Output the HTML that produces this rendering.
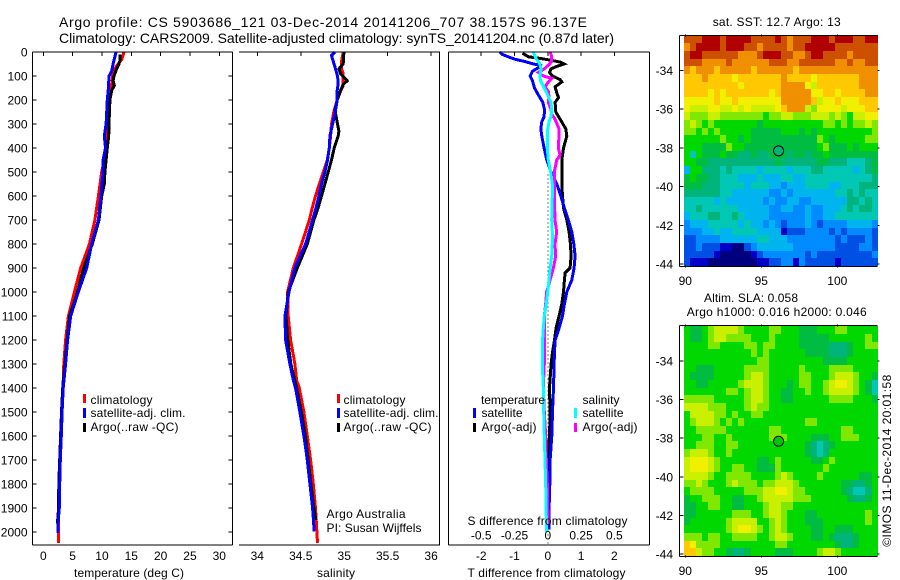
<!DOCTYPE html>
<html>
<head>
<meta charset="utf-8">
<title>Argo profile</title>
<style>
html,body{margin:0;padding:0;background:#fff;}
svg{display:block;}
text{font-family:"Liberation Sans",sans-serif;font-size:12px;fill:#000;}
</style>
</head>
<body>
<svg id="fig" width="900" height="580" viewBox="0 0 900 580" xmlns="http://www.w3.org/2000/svg">
<rect x="0" y="0" width="900" height="580" fill="#fff"/>
<text x="59" y="27" style="font-size:14px" textLength="528">Argo profile: CS 5903686_121 03-Dec-2014 20141206_707 38.157S 96.137E</text>
<text x="59" y="43" style="font-size:14px" textLength="555">Climatology: CARS2009. Satellite-adjusted climatology: synTS_20141204.nc (0.87d later)</text>
<g id="panels"></g>

<text x="74" y="577" textLength="110">temperature (deg C)</text>
<text x="317" y="577" textLength="38">salinity</text>
<text x="467.5" y="577" textLength="158">T difference from climatology</text>
<text x="467.5" y="525" textLength="160">S difference from climatology</text>

<g>
<rect x="83" y="394" width="3" height="9" fill="#f00"/>
<rect x="83" y="408" width="3" height="10" fill="#00f"/>
<rect x="83" y="423" width="3" height="9" fill="#000"/>
<text x="90.5" y="404" textLength="62">climatology</text>
<text x="90.5" y="417" textLength="95">satellite-adj. clim.</text>
<text x="90.5" y="431" textLength="88">Argo(..raw -QC)</text>
</g>
<g>
<rect x="337" y="394" width="3" height="9" fill="#f00"/>
<rect x="337" y="408" width="3" height="10" fill="#00f"/>
<rect x="337" y="423" width="3" height="9" fill="#000"/>
<text x="343.5" y="404" textLength="62">climatology</text>
<text x="343.5" y="417" textLength="95">satellite-adj. clim.</text>
<text x="343.5" y="431" textLength="88">Argo(..raw -QC)</text>
</g>
<text x="326.5" y="518" textLength="79">Argo Australia</text>
<text x="326.5" y="532" textLength="95">PI: Susan Wijffels</text>

<g>
<text x="481" y="404" textLength="64">temperature</text>
<rect x="473" y="408" width="3" height="10" fill="#00f"/>
<text x="481.5" y="417" textLength="41">satellite</text>
<rect x="473" y="423" width="3" height="9" fill="#000"/>
<text x="481.5" y="431" textLength="55">Argo(-adj)</text>
<text x="582.5" y="404" textLength="37">salinity</text>
<rect x="574" y="408" width="3" height="10" fill="#0ff"/>
<text x="582.5" y="417" textLength="41">satellite</text>
<rect x="574" y="423" width="3" height="9" fill="#f0f"/>
<text x="582.5" y="431" textLength="55">Argo(-adj)</text>
</g>

<text x="712.7" y="26" textLength="128">sat. SST: 12.7  Argo: 13</text>
<text x="704" y="302" textLength="94">Altim. SLA: 0.058</text>
<text x="686.7" y="316" textLength="180">Argo h1000: 0.016  h2000: 0.046</text>
<text transform="translate(891,546.7) rotate(-90)" x="0" y="0" textLength="172">©IMOS 11-Dec-2014 20:01:58</text>
</svg>

<script>
// ---------- Tick labels ----------
const depthTicks = [0,100,200,300,400,500,600,700,800,900,1000,1100,1200,1300,1400,1500,1600,1700,1800,1900,2000];
const tempTicks = [0,5,10,15,20,25,30];
const salTicks = [34,34.5,35,35.5,36];
const tDiffTicks = [-2,-1,0,1,2];
const sDiffTicks = [-0.5,-0.25,0,0.25,0.5];
const lonTicks = [90,95,100];
const latTicks = [-34,-36,-38,-40,-42,-44];

// ---------- Temperature panel ----------
const tempClimDepth = [0,30,50,80,120,150,200,300,400,500,600,700,800,900,1000,1100,1200,1300,1400,1500,1600,1700,1800,1900,2000,2045];
const tempClimValues = [13.75,13.4,12.75,11.9,11.75,11.5,11.2,10.9,10.8,9.95,9.4,8.8,7.85,6.37,5.3,4.27,3.8,3.5,3.35,3.15,3,2.85,2.75,2.65,2.55,2.55];
const tempArgoDepth = [10,30,50,70,100,120,140,160,200,300,350,400,500,550,600,700,800,900,1000,1100,1200,1300,1400,1500,1600,1700,1800,1900,1965];
const tempArgoValues = [13.1,13.1,12.9,12.5,12.05,11.9,12.1,11.65,11.35,11.2,11.15,10.9,10.5,10.4,9.95,9.5,8.35,6.9,5.85,4.5,4.05,3.7,3.3,3.1,2.95,2.8,2.65,2.6,2.4];
const tempSatDepth = [0,50,80,100,150,200,300,350,400,450,500,600,700,800,900,1000,1100,1200,1300,1400,1500,1600,1700,1800,1900,1950,2004];
const tempSatValues = [12.4,11.9,11.65,11.2,11.1,10.9,10.7,10.4,10.6,10.2,10.2,9.83,9.4,8.25,7.4,5.97,4.67,4.15,3.8,3.4,3.2,3.07,2.9,2.8,2.73,2.56,2.5];

// ---------- Salinity panel ----------
const salClimDepth = [0,40,70,90,140,170,200,250,300,350,400,450,500,550,600,650,700,800,900,1000,1100,1200,1300,1367,1400,1500,1600,1700,1800,1900,2000,2045];
const salClimValues = [34.989,34.969,34.969,34.989,34.989,34.95,34.92,34.88,34.854,34.843,34.828,34.805,34.759,34.713,34.67,34.632,34.598,34.51,34.414,34.349,34.356,34.383,34.433,34.452,34.483,34.536,34.575,34.613,34.644,34.67,34.686,34.693];
const salArgoDepth = [0,50,70,90,110,120,135,160,200,240,280,330,350,400,450,500,550,600,650,700,800,900,1000,1100,1200,1300,1400,1500,1600,1700,1800,1900,1950];
const salArgoValues = [34.996,34.989,34.939,34.958,35.008,35.034,34.989,34.958,34.92,34.893,34.912,34.939,34.931,34.885,34.854,34.816,34.778,34.739,34.7,34.651,34.575,34.46,34.357,34.33,34.35,34.385,34.452,34.506,34.552,34.586,34.617,34.651,34.674];
const salSatDepth = [0,15,40,70,100,130,160,200,250,300,350,400,450,500,550,600,650,700,800,900,1000,1100,1200,1300,1367,1400,1500,1600,1700,1800,1900,1997];
const salSatValues = [34.893,34.854,34.874,34.9,34.923,34.931,34.92,34.92,34.897,34.866,34.835,34.828,34.808,34.778,34.739,34.709,34.674,34.636,34.556,34.433,34.365,34.318,34.326,34.375,34.414,34.44,34.49,34.536,34.575,34.605,34.636,34.655];

// ---------- Difference panel ----------
const diffTSatDepth = [0,10,20,30,40,50,55,65,80,100,120,150,180,210,240,270,290,320,350,400,450,500,550,600,650,700,750,800,850,900,950,1000,1050,1100,1150,1200,1250,1300,1400,1500,1600,1700,1800,1900,1990];
const diffTSatValues = [-1.44,-1.37,-1.19,-0.99,-0.68,-0.43,-0.23,-0.28,-0.46,-0.53,-0.46,-0.4,-0.28,-0.15,-0.1,-0.11,-0.18,-0.21,-0.18,-0.11,-0.03,0.1,0.27,0.39,0.5,0.62,0.72,0.78,0.82,0.79,0.72,0.57,0.5,0.44,0.34,0.22,0.2,0.19,0.17,0.14,0.12,0.07,0.06,0.04,0.04];
const diffTArgoDepth = [5,10,20,28,35,42,50,60,70,85,100,115,125,145,170,190,210,250,280,320,350,400,450,500,550,600,650,700,750,800,850,900,920,950,1000,1050,1100,1150,1200,1250,1300,1400,1500,1600,1700,1800,1900,1960];
const diffTArgoValues = [-0.76,-0.7,-0.58,-0.18,0.12,0.37,0.49,0.27,0.1,0.05,0.14,0.37,0.42,0.22,0.27,0.32,0.22,0.24,0.37,0.54,0.57,0.47,0.42,0.42,0.42,0.44,0.47,0.57,0.64,0.68,0.7,0.67,0.52,0.5,0.47,0.42,0.34,0.25,0.2,0.14,0.1,0.05,0.07,0.05,0.01,0,0,0.02];
const diffSSatDepth = [0,10,25,50,70,100,120,150,180,210,240,270,290,330,400,450,500,550,600,700,750,800,850,900,950,1000,1050,1100,1150,1200,1300,1400,1500,1600,1700,1800,1900,2000];
const diffSSatValues = [-0.109,-0.101,-0.091,-0.059,-0.051,-0.059,-0.054,-0.026,-0.001,0.024,0.029,0.024,0.009,-0.004,-0.004,0.004,0.022,0.034,0.034,0.029,0.034,0.034,0.029,0.017,0.009,-0.001,-0.011,-0.026,-0.034,-0.039,-0.041,-0.034,-0.031,-0.026,-0.021,-0.016,-0.013,-0.009];
const diffSArgoDepth = [0,20,40,55,70,85,100,110,125,145,165,185,210,240,260,280,320,350,400,430,450,500,600,700,750,800,850,900,950,1000,1050,1100,1150,1200,1300,1400,1500,1600,1700,1800,1900,1970];
const diffSArgoValues = [0.017,0.029,0.029,0.004,-0.026,-0.071,-0.034,0.029,0.004,-0.021,0.004,0.009,0.004,0.024,0.029,0.054,0.084,0.084,0.079,0.092,0.067,0.049,0.049,0.054,0.067,0.054,0.059,0.042,0.017,-0.009,-0.016,-0.026,-0.026,-0.026,-0.026,-0.034,-0.026,-0.016,-0.011,-0.004,-0.001,0.004];

// ---------- Map grids (colour level per cell, north to south, west to east) ----------
const mapPalette = ["#00007f","#0000c8","#0050e6","#008cff","#00b4f0","#00c8b4","#00b47c","#00bc40","#00d800","#80e800","#c8f000","#f0f000","#ffc800","#f09000","#cc5000","#b00000"];
const sstGrid = [
[14,14,14,15,15,15,14,15,15,15,15,14,14,14,14,15,14,13,14,14,14,15,15,15,14,15,15,15,14,14,15,15],
[13,14,15,15,15,15,14,15,15,15,14,14,13,14,14,14,14,13,14,14,15,15,15,15,15,14,14,14,14,14,14,14],
[14,15,15,14,14,14,14,14,14,13,13,13,14,15,15,15,14,14,13,13,14,15,15,14,14,14,14,13,14,14,14,14],
[14,14,14,13,13,13,13,14,13,13,13,13,13,13,14,14,14,13,13,14,14,14,14,14,14,13,13,14,13,13,14,14],
[13,12,13,13,13,12,13,13,13,13,13,12,13,13,13,13,13,13,12,13,13,13,13,13,13,13,13,13,13,13,13,13],
[12,12,12,13,12,12,12,12,11,12,12,12,12,12,12,12,13,12,12,12,12,11,12,12,12,12,12,12,12,13,13,13],
[12,12,12,12,12,12,12,12,12,11,12,12,12,12,12,12,13,13,13,13,11,10,12,12,12,12,12,12,12,13,13,13],
[12,12,12,12,11,12,11,12,12,12,12,12,12,12,11,12,13,13,13,13,13,11,11,12,12,11,12,12,12,12,13,13],
[11,11,11,11,11,12,11,11,12,11,11,11,11,11,11,11,13,13,13,13,13,12,10,11,11,12,11,11,11,12,12,12],
[11,10,10,10,11,11,10,10,11,10,11,10,10,10,10,11,12,13,13,13,10,9,11,11,11,11,10,11,11,11,12,12],
[10,9,9,9,10,10,9,9,9,9,9,9,9,8,9,9,10,10,9,9,9,10,10,10,9,10,9,8,10,10,11,11],
[9,10,9,8,9,8,8,8,8,8,8,8,7,8,8,8,8,8,8,8,8,8,8,9,9,8,9,8,9,9,10,9],
[9,9,8,9,8,9,8,8,8,8,8,7,7,7,7,7,8,8,8,7,8,7,8,8,8,8,8,8,8,8,8,9],
[8,8,8,8,8,8,9,8,8,7,8,7,7,7,7,7,7,7,7,7,7,7,9,8,7,8,8,8,8,8,9,9],
[8,8,8,7,7,7,7,9,8,8,7,7,7,7,7,7,7,7,7,7,7,7,8,9,7,7,7,8,7,8,8,8],
[8,5,8,7,7,7,8,7,7,6,6,7,6,6,7,7,7,6,7,7,6,7,7,8,7,7,7,7,7,7,7,7],
[8,8,7,7,6,6,6,6,6,6,6,6,6,6,6,7,6,6,6,6,6,6,7,7,6,6,6,5,5,5,6,7],
[4,8,8,6,6,6,5,6,5,5,5,5,4,5,5,5,5,4,5,5,5,6,6,5,5,5,5,5,4,5,6,7],
[7,8,7,7,6,6,5,5,5,4,4,4,5,4,4,4,5,5,4,4,5,5,5,5,5,5,5,5,5,5,5,6],
[7,7,7,6,6,6,5,5,5,5,4,5,5,5,4,4,3,4,4,4,5,5,5,5,4,4,5,5,5,6,6,6],
[6,6,6,6,6,6,5,5,4,4,4,4,4,4,3,3,4,3,4,4,4,4,4,4,4,5,5,6,5,6,5,5],
[5,5,5,5,5,4,5,4,4,4,4,4,4,3,4,3,3,4,4,3,3,4,4,4,4,4,4,6,6,5,6,5],
[5,5,6,5,5,5,5,5,5,4,4,4,4,4,3,3,4,4,3,3,4,3,3,4,4,4,5,6,5,6,6,5],
[4,5,5,5,6,6,5,5,6,5,4,4,4,4,3,3,3,3,3,3,4,3,3,4,4,5,5,5,5,5,5,5],
[3,4,4,4,5,5,5,5,5,4,5,4,4,3,4,3,2,3,3,3,4,3,2,3,3,3,3,4,4,4,4,3],
[3,3,3,4,4,5,4,4,5,5,5,5,4,4,4,4,1,2,2,2,3,3,3,3,2,3,2,3,3,3,3,2],
[2,2,3,3,3,3,4,4,4,4,4,4,5,5,4,4,4,3,3,3,3,3,3,3,3,2,3,2,2,2,3,2],
[2,2,3,2,2,2,1,1,0,0,2,3,4,4,4,4,4,4,3,3,3,3,3,3,3,2,2,2,2,3,3,2],
[2,2,2,2,2,1,0,0,0,0,0,1,2,3,3,3,3,3,3,3,2,3,2,2,2,2,2,2,2,2,2,3],
[2,1,1,1,0,0,0,0,0,0,0,0,1,1,2,2,3,3,1,3,2,2,2,2,2,1,2,2,2,2,2,2]
];
const slaGrid = [
[8,7,7,8,9,10,10,10,10,9,8,8,8,8,9,9,8,8,8,7,7,7,8,8,8,9,9,8,8,8,8,8],
[8,7,7,8,9,10,10,9,9,9,9,8,8,8,9,8,8,8,8,7,7,7,7,7,8,8,8,8,8,8,9,8],
[8,8,8,8,9,9,8,8,8,8,9,9,8,9,9,8,8,8,8,7,7,7,7,7,6,6,6,7,8,8,9,9],
[8,8,8,8,8,8,8,8,8,8,8,9,8,9,8,8,8,8,8,8,7,7,7,7,6,6,6,7,8,8,8,8],
[8,8,8,8,8,8,8,8,8,8,8,8,9,9,8,8,8,8,8,8,8,8,8,7,7,7,7,8,8,8,8,8],
[8,8,7,7,7,8,8,8,8,8,9,9,9,9,8,8,8,8,8,9,8,8,8,8,9,9,9,9,8,8,8,8],
[8,7,7,7,7,8,8,8,8,8,9,10,10,9,8,8,8,8,8,9,9,8,8,8,9,10,10,10,9,8,8,7],
[8,8,7,7,8,8,8,8,8,9,10,10,10,9,8,8,8,7,8,9,9,8,8,9,10,11,11,10,9,8,7,5],
[8,8,8,8,8,8,8,9,9,8,9,10,10,9,8,8,7,7,8,8,9,8,8,9,10,10,10,10,9,8,7,5],
[9,9,9,9,9,8,8,8,8,8,9,10,10,9,8,8,7,7,8,8,8,8,8,8,9,9,9,9,8,8,8,7],
[10,10,10,10,9,9,9,8,8,8,9,10,9,9,8,8,8,8,8,8,8,8,8,8,8,8,8,8,8,8,8,8],
[8,10,10,10,10,9,9,8,9,8,8,9,9,8,8,8,8,8,8,8,8,8,8,8,8,8,8,8,8,8,8,8],
[8,9,10,10,10,9,8,9,8,9,8,8,8,8,8,8,8,8,8,8,9,9,8,8,8,8,8,8,8,8,8,8],
[8,8,9,9,9,9,9,8,8,8,8,8,8,8,9,9,8,8,8,8,8,8,8,8,8,8,9,9,8,8,8,8],
[8,8,8,9,9,8,8,9,8,8,8,8,8,8,9,9,9,8,8,8,8,7,7,7,8,8,9,9,9,8,8,8],
[8,8,9,9,9,8,8,9,9,8,8,8,8,8,8,8,8,8,8,8,7,6,5,6,7,8,8,8,8,8,8,8],
[9,10,10,10,9,8,8,9,8,8,8,8,8,8,8,8,8,8,8,8,7,6,5,6,8,8,8,8,8,8,8,8],
[10,11,11,11,10,9,8,8,8,8,8,8,7,7,8,9,8,8,8,8,8,7,7,8,9,8,8,8,8,8,8,8],
[10,11,11,11,10,9,8,8,9,9,8,8,7,7,7,9,8,8,8,8,8,8,8,9,8,8,8,8,8,8,8,8],
[10,10,10,10,9,8,8,9,9,9,9,8,8,8,8,9,10,9,8,8,8,8,9,8,8,8,8,8,8,7,7,8],
[9,9,10,9,8,8,8,9,10,9,9,9,8,9,9,10,10,10,9,8,8,8,8,8,8,8,7,7,6,6,7,8],
[8,9,9,9,9,8,8,8,8,8,9,9,9,10,10,11,11,10,9,9,8,8,8,8,8,8,7,6,5,5,6,8],
[7,8,8,9,9,9,8,8,7,7,8,8,9,10,10,10,10,10,9,9,9,8,8,8,8,8,8,7,6,6,7,8],
[7,7,8,8,9,9,8,8,7,7,8,8,8,9,10,10,9,9,8,8,8,8,8,8,8,8,8,8,8,8,8,8],
[7,7,8,8,8,8,8,8,9,9,9,8,8,9,10,10,9,8,8,8,7,7,8,8,8,8,8,8,8,8,9,8],
[7,8,8,8,8,8,8,9,10,10,10,10,8,8,9,10,9,8,8,8,7,7,7,8,8,8,8,8,8,8,9,8],
[8,8,8,8,8,8,8,9,10,11,11,10,9,8,9,10,9,8,8,8,8,7,7,8,8,7,7,7,8,8,8,8],
[9,9,9,8,9,9,8,8,9,9,9,9,8,8,9,10,10,9,8,8,8,7,7,8,7,6,6,6,7,8,8,8],
[12,11,9,9,9,9,8,8,8,8,8,8,8,8,8,9,9,8,8,8,8,8,8,8,8,7,6,6,7,8,8,8],
[12,12,10,9,9,8,8,7,6,6,7,8,8,8,8,7,7,7,8,8,8,8,9,10,10,9,8,8,8,8,8,8]
];
const profileLon = 96.137;
const profileLat = -38.157;

// ---------- Axis functions ----------
const yDepth = d => 52 + 0.24 * d;
const xTemp = t => 43.3 + 5.867 * t;
const xSal = s => 257.3 + 86.9 * (s - 34);
const xDiffT = t => 547.8 + 33.3 * t;
const xDiffS = s => 547.8 + 133.2 * s;
const xLon = lon => 685.3 + 15.2 * (lon - 90);
const yLatSst = lat => 70.3 + 19.37 * (-lat - 34);
const yLatSla = lat => 361 + 19.3 * (-lat - 34);

const NS = 'http://www.w3.org/2000/svg';
const root = document.getElementById('panels');
function mk(tag, parent, props) {
  const el = document.createElementNS(NS, tag);
  for (const k in props) el.setAttribute(k, props[k]);
  parent.appendChild(el);
  return el;
}
function axisLine(parent, x1, y1, x2, y2, name) {
  const el = mk('line', parent, {x1, y1, x2, y2, stroke: '#000', 'stroke-width': 1, 'shape-rendering': 'crispEdges'});
  
  
}
function label(parent, x, y, txt, anchor, name) {
  const el = mk('text', parent, {x, y, 'text-anchor': anchor});
  el.textContent = txt;
  
  
}
function curve(parent, depth, values, xFn, color, name) {
  const pts = depth.map((d, i) => xFn(values[i]).toFixed(1) + ',' + yDepth(d).toFixed(1)).join(' ');
  const el = mk('polyline', parent, {points: pts, fill: 'none', stroke: color, 'stroke-width': 3, 'shape-rendering': 'crispEdges', 'stroke-linejoin': 'miter'});
  
  
}
const TOP = 52, BOT = 545;

// ---------- Panel 1: temperature ----------
const p1 = mk('g', root, {});


curve(p1, tempClimDepth, tempClimValues, xTemp, '#f00', 'temperature-climatology-line');
curve(p1, tempArgoDepth, tempArgoValues, xTemp, '#000', 'temperature-argo-line');
curve(p1, tempSatDepth, tempSatValues, xTemp, '#00f', 'temperature-satellite-line');
axisLine(p1, 32.5, TOP, 232.5, TOP, 'temperature-top-axis');
axisLine(p1, 32.5, BOT, 232.5, BOT, 'temperature-bottom-axis');
axisLine(p1, 32.5, TOP, 32.5, BOT, 'temperature-left-axis');
axisLine(p1, 232.5, TOP, 232.5, BOT, 'temperature-right-axis');
depthTicks.forEach(d => {
  axisLine(p1, 32.5, yDepth(d), 36.5, yDepth(d), 'depth-tick-left');
  axisLine(p1, 228.5, yDepth(d), 232.5, yDepth(d), 'depth-tick-right');
  label(p1, 27.5, yDepth(d) + 4.5, String(d), 'end', 'depth-tick-label');
});
tempTicks.forEach(t => {
  axisLine(p1, xTemp(t), TOP, xTemp(t), TOP + 4, 'temperature-tick');
  label(p1, xTemp(t), 560, String(t), 'middle', 'temperature-tick-label');
});

// ---------- Panel 2: salinity ----------
const p2 = mk('g', root, {});


curve(p2, salClimDepth, salClimValues, xSal, '#f00', 'salinity-climatology-line');
curve(p2, salArgoDepth, salArgoValues, xSal, '#000', 'salinity-argo-line');
curve(p2, salSatDepth, salSatValues, xSal, '#00f', 'salinity-satellite-line');
axisLine(p2, 239, TOP, 440, TOP, 'salinity-top-axis');
axisLine(p2, 239, BOT, 440, BOT, 'salinity-bottom-axis');
axisLine(p2, 439.5, TOP, 439.5, BOT, 'salinity-right-axis');
salTicks.forEach(s => {
  axisLine(p2, xSal(s), TOP, xSal(s), TOP + 4, 'salinity-tick');
  label(p2, xSal(s), 560, String(s), 'middle', 'salinity-tick-label');
});

// ---------- Panel 3: differences ----------
const p3 = mk('g', root, {});


const zeroLine = mk('line', p3, {x1: xDiffT(0), y1: yDepth(510), x2: xDiffT(0), y2: BOT, stroke: '#000', 'stroke-width': 1, 'stroke-dasharray': '1 3', 'shape-rendering': 'crispEdges'});


curve(p3, diffTArgoDepth, diffTArgoValues, xDiffT, '#000', 't-difference-argo-line');
curve(p3, diffTSatDepth, diffTSatValues, xDiffT, '#00f', 't-difference-satellite-line');
curve(p3, diffSArgoDepth, diffSArgoValues, xDiffS, '#f0f', 's-difference-argo-line');
curve(p3, diffSSatDepth, diffSSatValues, xDiffS, '#0ff', 's-difference-satellite-line');
axisLine(p3, 448.5, TOP, 649.5, TOP, 'difference-top-axis');
axisLine(p3, 448.5, BOT, 649.5, BOT, 'difference-bottom-axis');
axisLine(p3, 448.5, TOP, 448.5, BOT, 'difference-left-axis');
axisLine(p3, 649.5, TOP, 649.5, BOT, 'difference-right-axis');
tDiffTicks.forEach(t => {
  axisLine(p3, xDiffT(t), TOP, xDiffT(t), TOP + 4, 'difference-tick');
  label(p3, xDiffT(t), 560, String(t), 'middle', 't-difference-tick-label');
});
sDiffTicks.forEach(s => {
  label(p3, xDiffS(s), 539.5, String(s), 'middle', 's-difference-tick-label');
});

// ---------- Maps ----------
const lonStart = 89.914, lonStep = 0.398, latStart = -32.2, latStep = -0.397;
function drawMap(grid, yFn, mapName, frameTop, frameBot, labelY, markerFill) {
  const g = mk('g', root, {});
  
  
  grid.forEach((row, r) => {
    const y0 = Math.round(yFn(latStart + latStep * r));
    const y1 = Math.round(yFn(latStart + latStep * (r + 1)));
    row.forEach((v, c) => {
      const x0 = Math.round(xLon(lonStart + lonStep * c));
      const x1 = Math.round(xLon(lonStart + lonStep * (c + 1)));
      const cell = mk('rect', g, {x: x0, y: y0, width: x1 - x0, height: y1 - y0, fill: mapPalette[v], 'shape-rendering': 'crispEdges'});
      
      
    });
  });
  axisLine(g, 679.5, frameTop, 877.5, frameTop, 'map-top-axis');
  axisLine(g, 679.5, frameBot, 877.5, frameBot, 'map-bottom-axis');
  axisLine(g, 679.5, frameTop, 679.5, frameBot, 'map-left-axis');
  lonTicks.forEach(lon => {
    axisLine(g, xLon(lon), frameTop - 1, xLon(lon), frameTop + 1, 'longitude-tick');
    axisLine(g, xLon(lon), frameBot - 1, xLon(lon), frameBot + 1, 'longitude-tick');
    label(g, xLon(lon), labelY, String(lon), 'middle', 'longitude-tick-label');
  });
  latTicks.forEach(lat => {
    axisLine(g, 679.5, yFn(lat), 683.5, yFn(lat), 'latitude-tick');
    axisLine(g, 877.5, yFn(lat), 879.5, yFn(lat), 'latitude-tick');
    label(g, 673, yFn(lat) + 4.5, String(lat), 'end', 'latitude-tick-label');
  });
  const marker = mk('circle', g, {cx: xLon(profileLon), cy: yFn(profileLat), r: 5, fill: markerFill, stroke: '#000', 'stroke-width': 1});
  
  
}
drawMap(sstGrid, yLatSst, 'sst-map', 35.5, 266.5, 285, '#00b47c');
drawMap(slaGrid, yLatSla, 'sla-map', 325.5, 556.5, 575, '#00c800');
</script>
</body>
</html>
